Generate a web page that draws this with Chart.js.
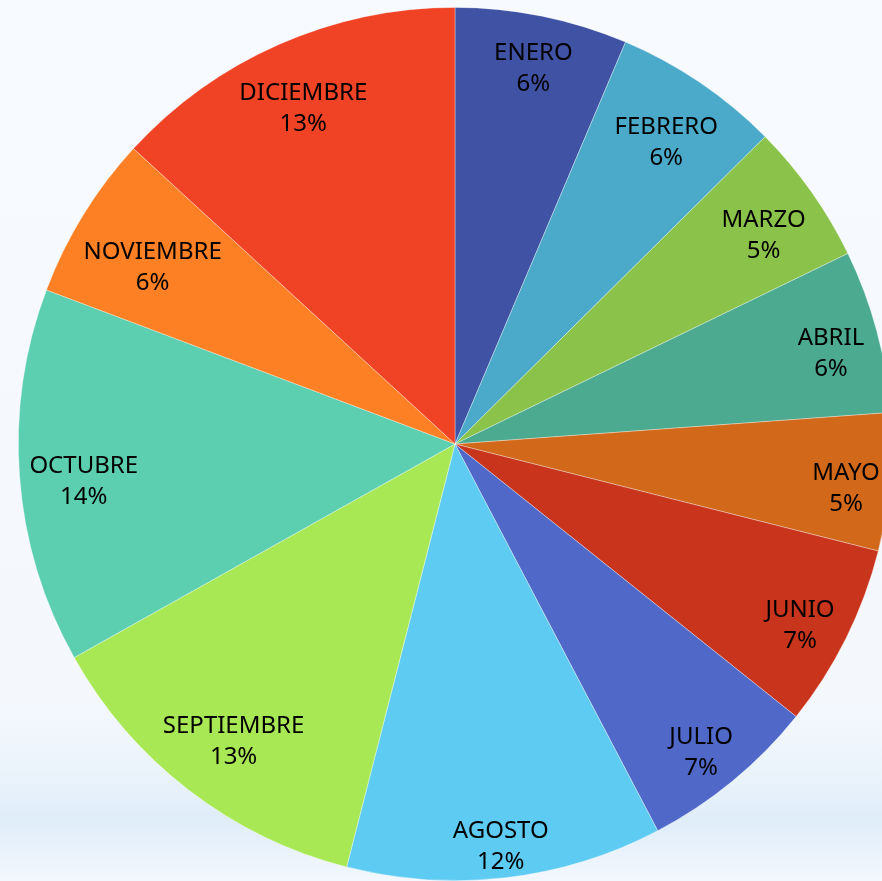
<!DOCTYPE html>
<html>
<head>
<meta charset="utf-8">
<script src="https://cdn.jsdelivr.net/npm/chart.js@4/dist/chart.umd.min.js"></script>
<style>
  html, body { margin: 0; padding: 0; width: 882px; height: 881px; overflow: hidden; }
  body {
    background: linear-gradient(180deg, #f7fafe 0%, #f4f8fd 80%, #eaf3fb 88%, #dfedf9 93%, #ebf3fc 97%, #f3f8fe 100%);
    position: relative;
  }
  #c { position: absolute; left: 0; top: 7px; }
</style>
</head>
<body>
<canvas id="c" width="910" height="874"></canvas>
<script>
const categories = ['ENERO', 'FEBRERO', 'MARZO', 'ABRIL', 'MAYO', 'JUNIO', 'JULIO', 'AGOSTO', 'SEPTIEMBRE', 'OCTUBRE', 'NOVIEMBRE', 'DICIEMBRE'];
const values = [6.4, 6.2, 5.25, 6.05, 5.1, 6.8, 6.6, 11.7, 12.9, 13.9, 6.1, 13.2];
const colors = ['#3f52a3', '#4ba9c9', '#8bc34a', '#4baa8f', '#d2691a', '#c8351c', '#5068c8', '#5ecbf2', '#a8e854', '#5ccfb1', '#fd8024', '#f04326'];

const labelPlugin = {
  id: 'sliceLabels',
  afterDatasetsDraw(chart) {
    const ctx = chart.ctx;
    const meta = chart.getDatasetMeta(0);
    const total = values.reduce((a, b) => a + b, 0);
    ctx.save();
    ctx.font = '24px "Noto Sans"';
    ctx.fillStyle = '#000000';
    ctx.textAlign = 'center';
    ctx.textBaseline = 'middle';
    const lineGap = 31;
    meta.data.forEach((arc, i) => {
      const p = arc.getProps(['x', 'y', 'startAngle', 'endAngle', 'outerRadius'], true);
      const mid = (p.startAngle + p.endAngle) / 2;
      const pct = Math.round(values[i] / total * 100) + '%';
      const w = Math.max(ctx.measureText(categories[i]).width, ctx.measureText(pct).width);
      const h = 56;
      const dx = Math.cos(mid), dy = Math.sin(mid);
      const extent = Math.abs(dx) * w / 2 + Math.abs(dy) * h / 2;
      const r = p.outerRadius - 8 - extent;
      const cx = p.x + dx * r, cy = p.y + dy * r + 10;
      ctx.fillText(categories[i], cx, cy - lineGap / 2);
      ctx.fillText(pct, cx, cy + lineGap / 2);
    });
    ctx.restore();
  }
};

new Chart(document.getElementById('c'), {
  type: 'pie',
  data: {
    labels: categories,
    datasets: [{
      data: values,
      backgroundColor: colors,
      borderColor: 'rgba(255,255,255,0.45)',
      borderWidth: 0.75
    }]
  },
  options: {
    responsive: false,
    animation: false,
    layout: { padding: 0 },
    plugins: { legend: { display: false }, tooltip: { enabled: false } }
  },
  plugins: [labelPlugin]
});
</script>
</body>
</html>
